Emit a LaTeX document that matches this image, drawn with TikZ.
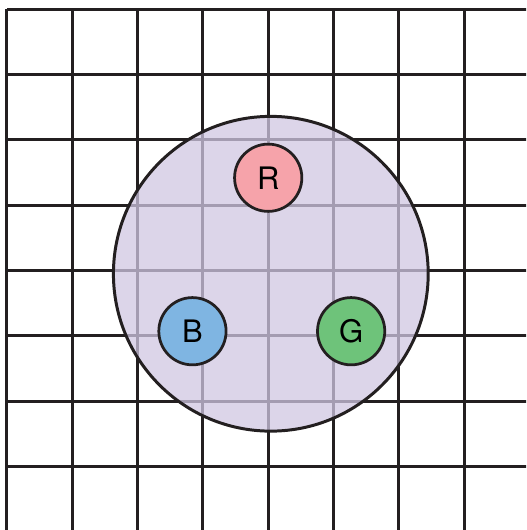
\documentclass[tikz,border=0pt]{standalone}
\usepackage{fontspec}
\setmainfont{TeX Gyre Heros}
\definecolor{discfill}{RGB}{208,199,226}
\definecolor{rpink}{RGB}{246,163,170}
\definecolor{bblue}{RGB}{127,181,226}
\definecolor{ggreen}{RGB}{110,195,122}
\definecolor{inkline}{RGB}{35,31,32}
\tikzset{
  gridline/.style={line width=1.3pt,draw=inkline},
  ball/.style={circle,draw=inkline,line width=1.2pt,minimum size=1.03cm,inner sep=0pt,
    font=\fontsize{13.5}{16}\selectfont}
}

\begin{document}
\begin{tikzpicture}[line join=round]
  \useasboundingbox (-0.107,-7.974) rectangle (7.948,0.142);
  \clip (-0.107,-7.974) rectangle (7.948,0.142);
  % 方格
  \foreach \k in {0,...,7} {
    \draw[gridline] (\k,0) -- (\k,-8.2);
    \draw[gridline] (0,-\k) -- (8.2,-\k);
  }
  % 大圆盘
  \fill[discfill,opacity=0.75] (4.04,-4.05) circle (2.41);
  \draw[line width=1.3pt,draw=inkline] (4.04,-4.05) circle (2.41);
  % 三个小球
  \node[ball,fill=rpink] (R) at (4.0,-2.58) {R};
  \node[ball,fill=bblue] (B) at (2.84,-4.93) {B};
  \node[ball,fill=ggreen] (G) at (5.27,-4.93) {G};
\end{tikzpicture}
\end{document}
